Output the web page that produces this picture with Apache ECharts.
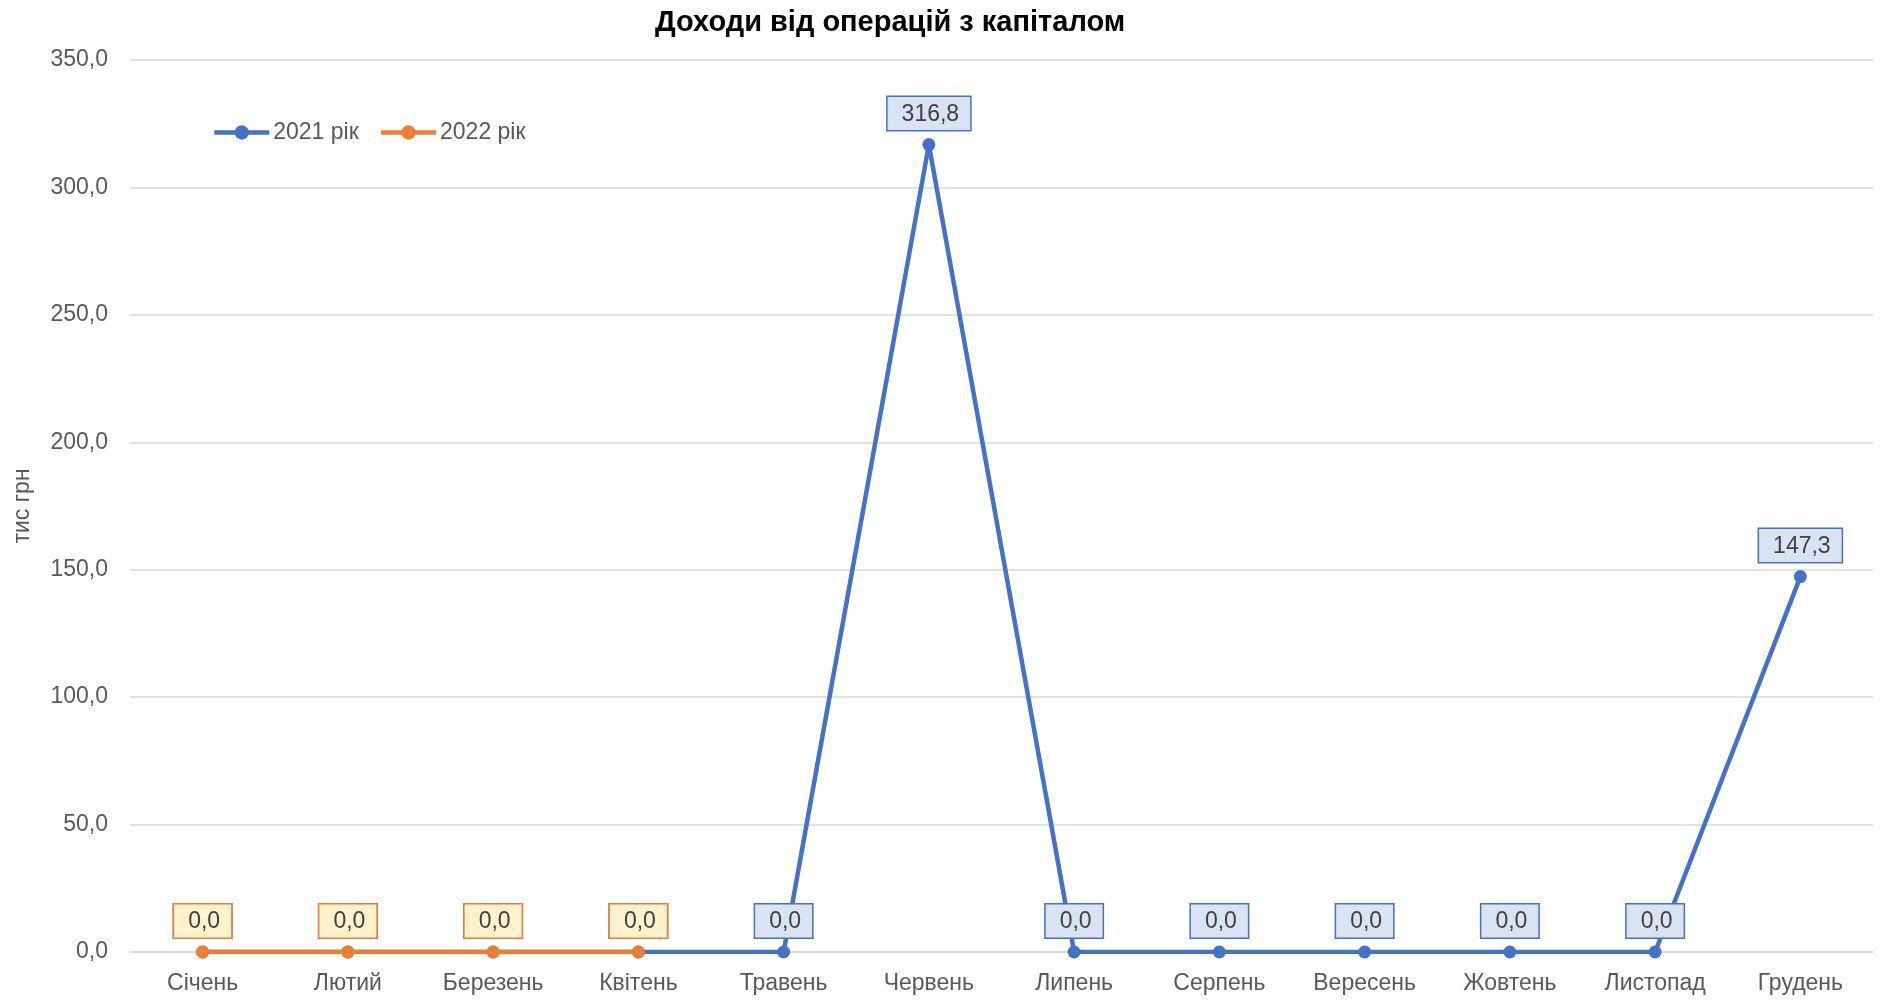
<!DOCTYPE html>
<html>
<head>
<meta charset="utf-8">
<script src="https://cdn.jsdelivr.net/npm/echarts@6/dist/echarts.min.js"></script>
<style>
  html, body { margin: 0; padding: 0; background: #fff; }
  #chart { width: 1887px; height: 1001px; }
</style>
</head>
<body>
<div id="chart"></div>
<script>
var months = ['Січень', 'Лютий', 'Березень', 'Квітень', 'Травень', 'Червень',
              'Липень', 'Серпень', 'Вересень', 'Жовтень', 'Листопад', 'Грудень'];
var values2021 = [0, 0, 0, 0, 0, 316.8, 0, 0, 0, 0, 0, 147.3];
var values2022 = [0, 0, 0, 0, null, null, null, null, null, null, null, null];

var font = '"Liberation Sans", Arial, sans-serif';

function fmt(v) {
    return Number(v).toFixed(1).replace('.', ',');
}

var myChart = echarts.init(document.getElementById('chart'));

myChart.setOption({
    animation: false,
    title: {
        text: 'Доходи від операцій з капіталом',
        left: 650,
        top: 3,
        textStyle: { fontFamily: font, fontSize: 29, fontWeight: 'bold', color: '#000' }
    },
    legend: {
        left: 207,
        top: 116,
        itemWidth: 55,
        itemHeight: 18,
        itemGap: 20,
        itemStyle: { borderWidth: 0 },
        lineStyle: { width: 4.5 },
        textStyle: { fontFamily: font, fontSize: 23, color: '#595959', padding: [0, 0, 0, -1] },
        data: ['2021 рік', '2022 рік']
    },
    grid: { left: 130, right: 14, top: 60, bottom: 49 },
    xAxis: {
        type: 'category',
        data: months,
        boundaryGap: true,
        axisLine: { lineStyle: { color: '#D9D9D9', width: 1.5 } },
        axisTick: { show: false },
        axisLabel: { fontFamily: font, fontSize: 23, color: '#595959', margin: 20 }
    },
    yAxis: {
        type: 'value',
        min: 0,
        max: 350,
        interval: 50,
        name: 'тис грн',
        nameLocation: 'middle',
        nameGap: 96,
        nameRotate: 90,
        nameTextStyle: { fontFamily: font, fontSize: 23, color: '#595959' },
        axisLine: { show: false },
        axisTick: { show: false },
        splitLine: { lineStyle: { color: '#D9D9D9', width: 1.5 } },
        axisLabel: {
            fontFamily: font, fontSize: 23, color: '#595959', margin: 22,
            padding: [4, 0, 0, 0],
            formatter: function (v) { return fmt(v); }
        }
    },
    series: [
        {
            name: '2021 рік',
            type: 'line',
            data: values2021,
            z: 2,
            color: '#4472C4',
            symbol: 'circle',
            symbolSize: 13,
            lineStyle: { width: 4.5, color: '#4472C4' },
            itemStyle: { color: '#4472C4' },
            label: {
                show: true,
                position: 'top',
                distance: 8,
                fontFamily: font,
                fontSize: 23,
                color: '#404040',
                backgroundColor: '#DAE3F3',
                borderColor: '#4472C4',
                borderWidth: 1.5,
                padding: [6, 11, 4, 14],
                formatter: function (p) { return fmt(p.value); }
            }
        },
        {
            name: '2022 рік',
            type: 'line',
            data: values2022,
            z: 3,
            color: '#ED7D31',
            symbol: 'circle',
            symbolSize: 13,
            lineStyle: { width: 4.5, color: '#ED7D31' },
            itemStyle: { color: '#ED7D31' },
            label: {
                show: true,
                position: 'top',
                distance: 8,
                fontFamily: font,
                fontSize: 23,
                color: '#404040',
                backgroundColor: '#FFF2CC',
                borderColor: '#ED7D31',
                borderWidth: 1.5,
                padding: [6, 11, 4, 14],
                formatter: function (p) { return fmt(p.value); }
            }
        }
    ]
});
</script>
</body>
</html>
